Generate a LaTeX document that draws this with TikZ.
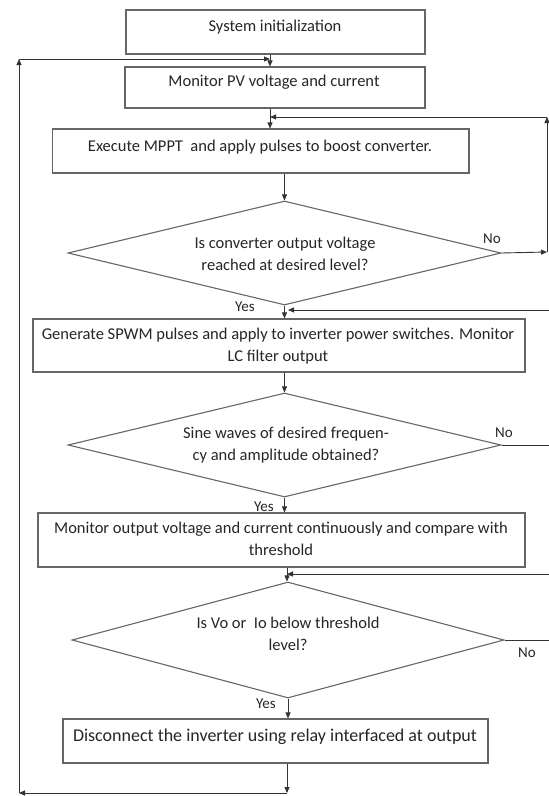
\documentclass[tikz,border=0pt]{standalone}
\usepackage{fontspec}
\setmainfont{Carlito}
\usetikzlibrary{shapes.geometric,arrows.meta}

\begin{document}
\begin{tikzpicture}[x=1pt,y=-1pt,
  box/.style={draw=black!60, line width=1.1pt, inner sep=0pt, fill=white},
  dec/.style={draw=black!60, line width=1.1pt, diamond, inner sep=0pt},
  txt/.style={font=\fontsize{16.5}{22}\selectfont, align=center, inner sep=0pt, text=black!85},
  lab/.style={font=\fontsize{15}{18}\selectfont, inner sep=0pt, text=black!85},
  wire/.style={draw=black!80, line width=0.9pt},
  flow/.style={wire, -{Triangle[length=6pt,width=5pt]}}
]
\useasboundingbox (0,0) rectangle (549,796);
\clip (0,0) rectangle (549,796);

% process boxes
\node[box, minimum width=299, minimum height=44] (b1) at (275.5,32) {};
\node[box, minimum width=300, minimum height=41] (b2) at (275,87.5) {};
\node[box, minimum width=416.5, minimum height=44] (b3) at (260.75,151) {};
\node[box, minimum width=492, minimum height=53] (b4) at (279,345.5) {};
\node[box, minimum width=487, minimum height=54] (b5) at (281.5,540) {};
\node[box, minimum width=425, minimum height=44] (b6) at (275.5,741) {};

% decision diamonds
\node[dec, minimum width=433, minimum height=104] (d1) at (284.5,253) {};
\node[dec, minimum width=433, minimum height=104] (d2) at (284.5,445) {};
\node[dec, minimum width=432, minimum height=116] (d3) at (288,640) {};

% texts
\node[txt] (t1) at (275,27) {System initialization};
\node[txt] (t2) at (274,82) {Monitor PV voltage and current};
\node[txt] (t3) at (260,147) {Execute MPPT\ \ and apply pulses to boost converter.};
\node[txt] (t4) at (278,346) {Generate SPWM pulses and apply to inverter power switches. Monitor\\LC filter output};
\node[txt] (q1) at (285,254) {Is converter output voltage\\reached at desired level?};
\node[txt] (q2) at (286,445) {Sine waves of desired frequen-\\cy and amplitude obtained?};
\node[txt] (t5) at (281,539) {Monitor output voltage and current continuously and compare with\\threshold};
\node[txt] (q3) at (288,634) {Is Vo or\ \ Io below threshold\\level?};
\node[txt, font=\fontsize{18}{22}\selectfont] (t6) at (275,737) {Disconnect the inverter using relay interfaced at output};

% branch labels
\node[lab] (n1) at (492,239) {No};
\node[lab] (y1) at (245,307) {Yes};
\node[lab] (n2) at (504,433) {No};
\node[lab] (y2) at (264,507) {Yes};
\node[lab] (n3) at (527,653) {No};
\node[lab] (y3) at (266,704) {Yes};

% junctions and corners
\coordinate (j1) at (270,59);
\coordinate (j2) at (270,117);
\coordinate (j3) at (288,310);
\coordinate (j4) at (287,574);
\coordinate (lt) at (19,59);
\coordinate (lb) at (19,793);
\coordinate (a6) at (287,793);
\coordinate (r1) at (547,252);
\coordinate (r2) at (547,117);
\coordinate (r3) at (556,445);
\coordinate (r4) at (556,310);
\coordinate (r5) at (556,640);
\coordinate (r6) at (556,574);

% main flow
\draw[flow] (b1.south -| j1) -- (b2.north -| j1);
\draw[flow] (b2.south -| j2) -- (b3.north -| j2);
\draw[flow] (b3.south -| d1.north) -- (d1.north);
\draw[flow] (d1.south) -- (d1.south |- b4.north);
\draw[flow] (b4.south -| d2.north) -- (d2.north);
\draw[flow] (d2.south) -- (d2.south |- b5.north);
\draw[flow] (b5.south -| j4) -- (d3.north -| j4);
\draw[flow] (d3.south) -- (d3.south |- b6.north);
\draw[flow] (b6.south -| a6) -- (a6);

% loop back to the start
\draw[flow] (a6) -- (lb);
\draw[flow] (lb) -- (lt);
\draw[flow] (lt) -- (j1);

% "No" branches
\draw[flow] (d1.east) -- (r1);
\draw[flow] (r1) -- (r2);
\draw[flow] (r2) -- (j2);
\draw[wire] (d2.east) -- (r3) -- (r4);
\draw[flow] (r4) -- (j3);
\draw[wire] (d3.east) -- (r5) -- (r6);
\draw[flow] (r6) -- (j4);
\end{tikzpicture}
\end{document}
